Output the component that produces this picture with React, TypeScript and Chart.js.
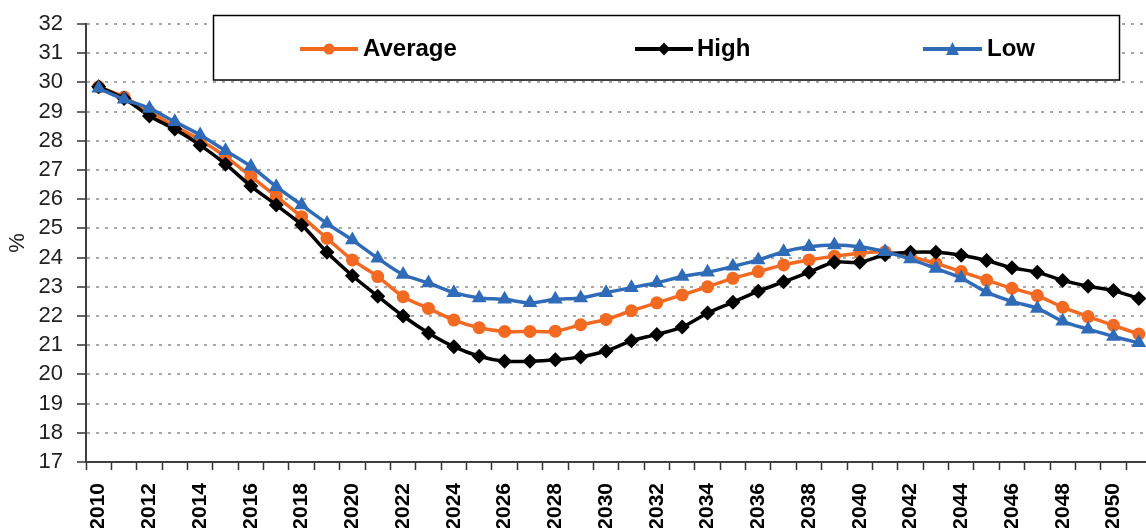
import React, { useEffect, useRef } from "react";
import { Chart, registerables } from "chart.js";

Chart.register(...registerables);

const years: string[] = [
  "2010","2011","2012","2013","2014","2015","2016","2017","2018","2019",
  "2020","2021","2022","2023","2024","2025","2026","2027","2028","2029",
  "2030","2031","2032","2033","2034","2035","2036","2037","2038","2039",
  "2040","2041","2042","2043","2044","2045","2046","2047","2048","2049",
  "2050","2051",
];

const averageValues: number[] = [
  29.85, 29.5, 29.0, 28.5, 28.03, 27.46, 26.78, 26.1, 25.4, 24.66,
  23.92, 23.35, 22.66, 22.26, 21.86, 21.6, 21.47, 21.47, 21.48, 21.7,
  21.88, 22.18, 22.45, 22.72, 23.0, 23.29, 23.52, 23.75, 23.92, 24.05,
  24.15, 24.2, 24.03, 23.8, 23.52, 23.23, 22.95, 22.7, 22.3, 21.98,
  21.68, 21.38,
];

const highValues: number[] = [
  29.85, 29.45, 28.85, 28.4, 27.85, 27.2, 26.45, 25.8, 25.12, 24.18,
  23.38, 22.68, 22.0, 21.42, 20.95, 20.62, 20.45, 20.45, 20.5, 20.6,
  20.8, 21.15, 21.37, 21.62, 22.1, 22.47, 22.85, 23.17, 23.5, 23.84,
  23.84, 24.1, 24.18, 24.18, 24.08, 23.9, 23.65, 23.5, 23.22, 23.02,
  22.87, 22.6,
];

const lowValues: number[] = [
  29.8, 29.42, 29.11, 28.65, 28.2, 27.66, 27.12, 26.43, 25.8, 25.17,
  24.6, 23.98, 23.42, 23.13, 22.8, 22.62, 22.57, 22.45, 22.57, 22.62,
  22.8, 22.97, 23.14, 23.35, 23.5, 23.7, 23.92, 24.2, 24.37, 24.43,
  24.37, 24.2, 23.95, 23.63, 23.3, 22.82, 22.5, 22.26, 21.82, 21.55,
  21.3, 21.08,
];

const seriesNames: string[] = ["Average", "High", "Low"];
const yTitle = "%";

const ORANGE = "#F26A22";
const BLACK = "#000000";
const BLUE = "#2F6BB7";

const CANVAS_W = 1160;
const CANVAS_H = 528;

const legendPlugin = {
  id: "boxLegend",
  afterDraw(chart: any) {
    const ctx = chart.ctx;
    ctx.save();
    ctx.fillStyle = "#ffffff";
    ctx.fillRect(213, 15, 907, 65);
    ctx.strokeStyle = "#000000";
    ctx.lineWidth = 1.5;
    ctx.strokeRect(213.5, 15.5, 906, 64.5);

    const items = [
      { name: seriesNames[0], color: ORANGE, x0: 300, x1: 358, tx: 363, marker: "circle" },
      { name: seriesNames[1], color: BLACK, x0: 635, x1: 693, tx: 697, marker: "diamond" },
      { name: seriesNames[2], color: BLUE, x0: 923, x1: 982, tx: 987, marker: "triangle" },
    ];
    const y = 49;
    for (const it of items) {
      ctx.strokeStyle = it.color;
      ctx.lineWidth = 4;
      ctx.beginPath();
      ctx.moveTo(it.x0, y);
      ctx.lineTo(it.x1, y);
      ctx.stroke();
      const cx = (it.x0 + it.x1) / 2;
      ctx.fillStyle = it.color;
      ctx.beginPath();
      if (it.marker === "circle") {
        ctx.arc(cx, y, 5.5, 0, Math.PI * 2);
      } else if (it.marker === "diamond") {
        ctx.moveTo(cx, y - 6.5);
        ctx.lineTo(cx + 6, y);
        ctx.lineTo(cx, y + 6.5);
        ctx.lineTo(cx - 6, y);
        ctx.closePath();
      } else {
        ctx.moveTo(cx, y - 7);
        ctx.lineTo(cx + 6.5, y + 6);
        ctx.lineTo(cx - 6.5, y + 6);
        ctx.closePath();
      }
      ctx.fill();
      ctx.fillStyle = "#000000";
      ctx.font = "bold 24px 'Liberation Sans', Arial, sans-serif";
      ctx.textAlign = "left";
      ctx.textBaseline = "middle";
      ctx.fillText(it.name, it.tx, y);
    }
    ctx.restore();
  },
};

export default function App() {
  const canvasRef = useRef<HTMLCanvasElement | null>(null);

  useEffect(() => {
    const canvas = canvasRef.current;
    if (!canvas) return;
    const chart = new Chart(canvas, {
      type: "line",
      data: {
        labels: years,
        datasets: [
          {
            label: seriesNames[0],
            data: averageValues,
            borderColor: ORANGE,
            backgroundColor: ORANGE,
            borderWidth: 3.5,
            pointStyle: "circle",
            pointRadius: 6.5,
            pointBorderWidth: 0,
            tension: 0.3,
            order: 3,
          },
          {
            label: seriesNames[1],
            data: highValues,
            borderColor: BLACK,
            backgroundColor: BLACK,
            borderWidth: 3.5,
            pointStyle: "rectRot",
            pointRadius: 7.5,
            pointBorderWidth: 0,
            tension: 0.3,
            order: 2,
          },
          {
            label: seriesNames[2],
            data: lowValues,
            borderColor: BLUE,
            backgroundColor: BLUE,
            borderWidth: 3.5,
            pointStyle: "triangle",
            pointRadius: 8.5,
            pointBorderWidth: 0,
            tension: 0.3,
            order: 1,
          },
        ],
      },
      options: {
        animation: false,
        responsive: false,
        maintainAspectRatio: false,
        devicePixelRatio: 1,
        layout: { padding: { top: 24, right: CANVAS_W - 1155.5, left: 0, bottom: 0 } },
        plugins: {
          legend: { display: false },
          tooltip: { enabled: false },
          title: { display: false },
        },
        scales: {
          x: {
            type: "category",
            offset: true,
            afterFit: (scale: any) => {
              scale.height = 66;
              scale.paddingLeft = 0;
              scale.paddingRight = 0;
            },
            grid: {
              display: true,
              offset: true,
              drawOnChartArea: false,
              drawTicks: true,
              tickLength: 8,
              tickColor: "#333333",
              tickWidth: 1.5,
              color: "#333333",
            },
            border: { display: true, color: "#404040", width: 2 },
            ticks: {
              autoSkip: false,
              minRotation: 90,
              maxRotation: 90,
              padding: 13,
              color: "#000000",
              font: { family: "'Liberation Sans', Arial, sans-serif", size: 21, weight: "bold" },
              callback: function (this: any, _v: any, i: number) {
                const y = years[i];
                return parseInt(y, 10) % 2 === 0 ? y : "";
              },
            },
          },
          y: {
            min: 17,
            max: 32,
            afterFit: (scale: any) => {
              scale.width = 86;
              scale.paddingTop = 0;
              scale.paddingBottom = 0;
            },
            grid: {
              display: true,
              color: "#a8a8a8",
              lineWidth: 2,
              drawTicks: true,
              tickLength: 9,
              tickColor: "#333333",
              tickWidth: 1.5,
              tickBorderDash: [],
            },
            border: { display: true, color: "#404040", width: 2, dash: [3, 6] },
            ticks: {
              stepSize: 1,
              autoSkip: false,
              padding: 14,
              color: "#222222",
              font: { family: "'Liberation Sans', Arial, sans-serif", size: 22 },
            },
            title: {
              display: true,
              text: yTitle,
              color: "#222222",
              padding: { top: 5, bottom: 0 },
              font: { family: "'Liberation Sans', Arial, sans-serif", size: 22 },
            },
          },
        },
      },
      plugins: [legendPlugin],
    });
    return () => {
      chart.destroy();
    };
  }, []);

  return (
    <div
      style={{
        position: "fixed",
        left: 0,
        top: 0,
        width: 1146,
        height: 528,
        overflow: "hidden",
        background: "#ffffff",
      }}
    >
      <canvas
        ref={canvasRef}
        width={CANVAS_W}
        height={CANVAS_H}
        style={{ display: "block", width: CANVAS_W, height: CANVAS_H }}
      />
    </div>
  );
}
